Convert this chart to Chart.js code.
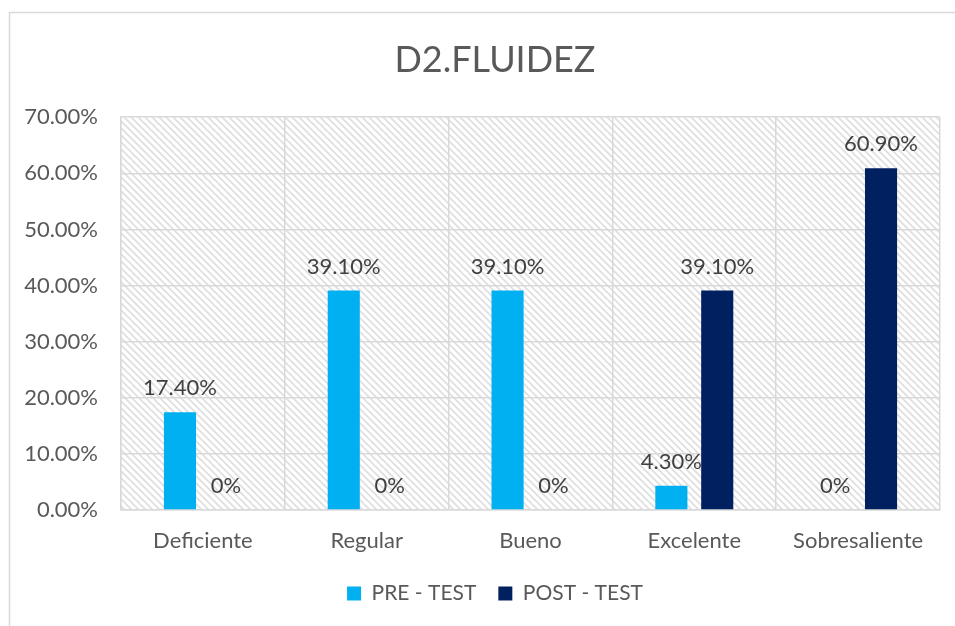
<!DOCTYPE html>
<html>
<head>
<meta charset="utf-8">
<script src="https://cdn.jsdelivr.net/npm/chart.js@4/dist/chart.umd.min.js"></script>
<style>
  body { margin: 0; background: #fff; }
</style>
</head>
<body>
<canvas id="myChart" width="955" height="626"></canvas>
<script>
const categories = ["Deficiente", "Regular", "Bueno", "Excelente", "Sobresaliente"];
const preTest =  [17.4, 39.1, 39.1, 4.3, 0];
const postTest = [0, 0, 0, 39.1, 60.9];
const seriesNames = ["PRE - TEST", "POST - TEST"];
const yTicks = [0, 10, 20, 30, 40, 50, 60, 70];

const FONT = "Lato, 'Open Sans', sans-serif";
const GRID = '#d9d9d9';

// diagonal hatch used behind the bars
function makeHatch() {
    const c = document.createElement('canvas');
    const n = 7;
    c.width = n; c.height = n;
    const g = c.getContext('2d');
    g.fillStyle = '#fff';
    g.fillRect(0, 0, n, n);
    g.strokeStyle = '#dedede';
    g.lineWidth = 1.6;
    g.beginPath();
    g.moveTo(-1, -1); g.lineTo(n + 1, n + 1);
    g.moveTo(-1, n - 1); g.lineTo(1, n + 1);
    g.moveTo(n - 1, -1); g.lineTo(n + 1, 1);
    g.stroke();
    return g.createPattern(c, 'repeat');
}

const background = {
    id: 'background',
    afterLayout(chart) {
        // let the y labels reach past the padded edge without being clipped
        chart.scales.y.left = 0;
    },
    beforeDraw(chart) {
        const ctx = chart.ctx, a = chart.chartArea;
        ctx.save();
        ctx.fillStyle = '#fff';
        ctx.fillRect(0, 0, chart.width, chart.height);
        ctx.strokeStyle = GRID;
        ctx.lineWidth = 1.5;
        ctx.strokeRect(9.5, 12.5, 1000, 700);
        ctx.fillStyle = makeHatch();
        ctx.fillRect(a.left, a.top, a.right - a.left, a.bottom - a.top);
        ctx.restore();
    }
};

const valueLabels = {
    id: 'valueLabels',
    afterDatasetsDraw(chart) {
        const ctx = chart.ctx;
        ctx.save();
        ctx.font = "22px " + FONT;
        ctx.fillStyle = '#404040';
        ctx.textAlign = 'center';
        ctx.textBaseline = 'alphabetic';
        chart.data.datasets.forEach((ds, i) => {
            chart.getDatasetMeta(i).data.forEach((bar, j) => {
                const v = ds.data[j];
                const txt = v === 0 ? '0%' : v.toFixed(2) + '%';
                ctx.fillText(txt, bar.x, bar.y - 17);
            });
        });
        ctx.restore();
    }
};

const myChart = new Chart("myChart", {
    type: "bar",
    data: {
        labels: categories,
        datasets: [{
            label: seriesNames[0],
            data: preTest,
            backgroundColor: '#00B0F0',
            categoryPercentage: 0.56,
            barPercentage: 0.70
        },
        {
            label: seriesNames[1],
            data: postTest,
            backgroundColor: '#002060',
            categoryPercentage: 0.56,
            barPercentage: 0.70
        }]
    },
    options: {
        responsive: false,
        animation: false,
        layout: { padding: { left: 50, right: 15, top: 0, bottom: 12 } },
        plugins: {
            tooltip: { enabled: false },
            title: {
                display: true,
                text: "D2.FLUIDEZ",
                color: '#595959',
                font: { family: FONT, size: 36, weight: 'normal' },
                padding: { top: 39, bottom: 35 }
            },
            legend: {
                position: 'bottom',
                labels: {
                    color: '#595959',
                    font: { family: FONT, size: 21 },
                    boxWidth: 14,
                    boxHeight: 14,
                    padding: 22
                }
            }
        },
        scales: {
            x: {
                grid: { color: GRID, lineWidth: 1.5, drawTicks: false },
                border: { color: GRID, width: 1.5 },
                ticks: { color: '#595959', font: { family: FONT, size: 22 }, padding: 18 },
                afterFit(scale) { scale.height = 51; }
            },
            y: {
                min: 0,
                max: 70,
                afterBuildTicks(scale) { scale.ticks = yTicks.map(v => ({ value: v })); },
                grid: { color: GRID, lineWidth: 1.5, drawTicks: false },
                border: { color: GRID, width: 1.5 },
                ticks: {
                    color: '#595959',
                    font: { family: FONT, size: 22 },
                    padding: 23,
                    callback: v => v.toFixed(2) + '%'
                },
                afterFit(scale) { scale.width = 71; }
            }
        }
    },
    plugins: [background, valueLabels]
});
</script>
</body>
</html>
